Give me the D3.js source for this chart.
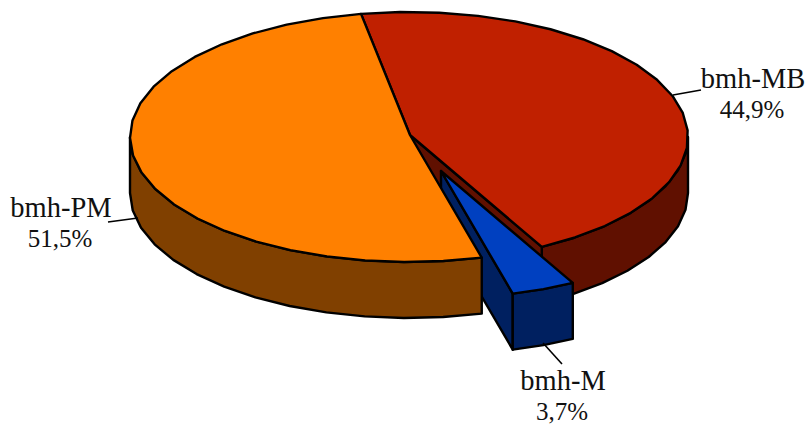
<!DOCTYPE html>
<html>
<head>
<meta charset="utf-8">
<script src="https://cdnjs.cloudflare.com/ajax/libs/d3/7.8.5/d3.min.js"></script>
<style>
  html, body { margin: 0; padding: 0; background: #fff; }
  text { font-family: "Liberation Serif", serif; font-size: 28.5px; fill: #111; text-anchor: middle; }
  text.pct { font-size: 25px; }
</style>
</head>
<body>
<svg id="chart" width="807" height="425"></svg>
<script>
const names = ["bmh-MB", "bmh-M", "bmh-PM"];
const values = [44.9, 3.7, 51.5];
const top_colors = ["#c02000", "#0040c0", "#ff8000"];
const side_colors = ["#601000", "#002060", "#804000"];

const svg = d3.select("#chart");

// tilted pie: radial scales squash the circle into an ellipse
const cx = 409, cy = 137, depth = 56;
const x_scale = d3.scaleLinear().domain([-1, 1]).range([cx - 279, cx + 279]);
const y_scale = d3.scaleLinear().domain([-1, 1]).range([cy + 125, cy - 125]);

const start = -9.9 * Math.PI / 180;
const slices = d3.pie().sort(null).startAngle(start).endAngle(start + 2 * Math.PI)(values);

// offset of the pulled out slice
const explode = [{x: 0, y: 0}, {x: 31, y: 36}, {x: 0, y: 0}];

function pt(a, i, drop) {
  return [x_scale(Math.sin(a)) + explode[i].x, y_scale(Math.cos(a)) + explode[i].y + (drop || 0)];
}
function center(i, drop) {
  return [cx + explode[i].x + 1, cy - 2 + explode[i].y + (drop || 0)];
}
// the original outline is made of short straight pieces, about 8 degrees each
function arc_pts(a0, a1, i, drop) {
  const n = Math.max(1, Math.round(Math.abs(a1 - a0) / (8 * Math.PI / 180)));
  return d3.range(0, n + 1).map(k => pt(a0 + (a1 - a0) * k / n, i, drop));
}
const line = d3.line();

function draw(points, fill) {
  svg.append("path")
    .attr("d", line(points) + "Z")
    .attr("fill", fill)
    .attr("stroke", "#000")
    .attr("stroke-width", 2.4)
    .attr("stroke-linejoin", "round");
}
function top_face(i) {
  const s = slices[i];
  draw([center(i), ...arc_pts(s.startAngle, s.endAngle, i)], top_colors[i]);
}
function outer_wall(i, a0, a1) {
  draw([...arc_pts(a0, a1, i), ...arc_pts(a1, a0, i, depth)], side_colors[i]);
}
function cut_face(i, a) {
  draw([center(i), pt(a, i), pt(a, i, depth), center(i, depth)], side_colors[i]);
}

// back to front
outer_wall(0, Math.PI / 2, slices[0].endAngle);
cut_face(0, slices[0].endAngle);
top_face(0);
cut_face(1, slices[1].endAngle);
outer_wall(2, slices[2].startAngle, 1.5 * Math.PI);
top_face(2);
outer_wall(1, slices[1].startAngle, slices[1].endAngle);
top_face(1);

// labels and leader lines
const label_x = [753, 563, 61];
const label_y = [88, 390, 217];
const leaders = [[[673, 95], [701, 90]], [[543, 343], [562, 364]], [[108, 222], [138, 218]]];

names.forEach((name, i) => {
  svg.append("path").attr("d", line(leaders[i])).attr("stroke", "#000").attr("stroke-width", 1.6).attr("fill", "none");
  svg.append("text").attr("x", label_x[i]).attr("y", label_y[i]).text(name);
  svg.append("text").attr("class", "pct").attr("x", label_x[i] - 1).attr("y", label_y[i] + 30).text(String(values[i]).replace(".", ",") + "%");
});
</script>
</body>
</html>
